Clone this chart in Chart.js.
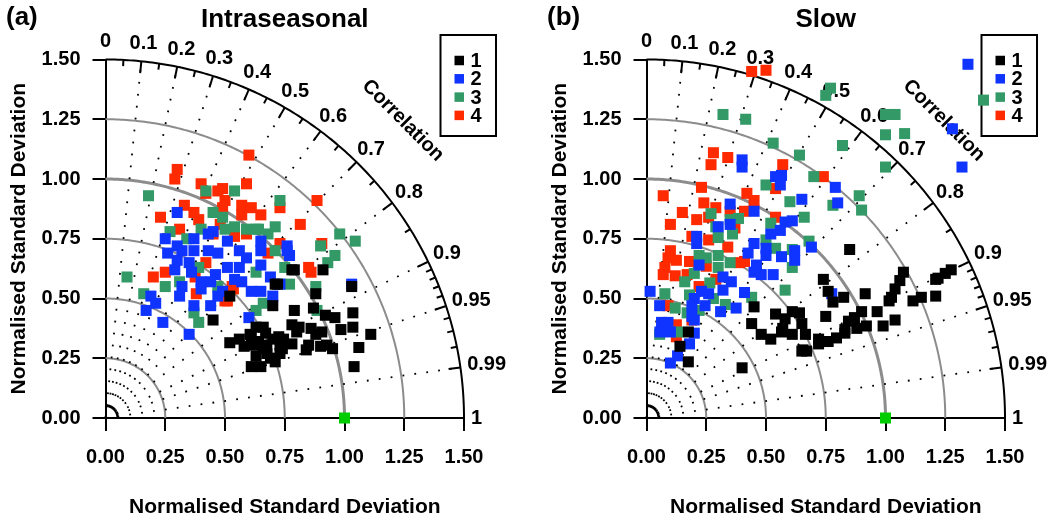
<!DOCTYPE html>
<html>
<head>
<meta charset="utf-8">
<script src="https://cdn.jsdelivr.net/npm/chart.js@4.4.1/dist/chart.umd.min.js"></script>
<style>
  html, body { margin: 0; padding: 0; background: #fff; }
  #wrap { position: relative; width: 1054px; height: 520px; }
  canvas { position: absolute; top: 0; }
  #chartA { left: 0; }
  #chartB { left: 541px; }
</style>
</head>
<body>
<div id="wrap">
  <canvas id="chartA" width="541" height="520"></canvas>
  <canvas id="chartB" width="513" height="520"></canvas>
</div>
<script>
// ---- data (normalised std dev, x = sd*corr, y = sd*sin) ----
const seriesNames = ['1', '2', '3', '4'];
const stdTicks = [0, 0.25, 0.5, 0.75, 1, 1.25, 1.5];
const stdArcs = [0.25, 0.5, 0.75, 1, 1.25];
const corrMajor = [0.1, 0.2, 0.3, 0.4, 0.5, 0.6, 0.7, 0.8, 0.9, 0.95, 0.99];
const corrMinor = [0.05, 0.15, 0.25, 0.35, 0.45, 0.55, 0.65, 0.75, 0.85, 0.91, 0.92, 0.93, 0.94, 0.96, 0.97, 0.98];
const corrLabels = [0, 0.1, 0.2, 0.3, 0.4, 0.5, 0.6, 0.7, 0.8, 0.9, 0.95, 0.99, 1];
const refPoint = [[1, 0]];

const intra1 = [[0.52,0.51],[0.70,0.47],[0.71,0.56],[0.45,0.41],[0.78,0.62],[0.91,0.62],[0.72,0.56],[0.88,0.52],
  [1.03,0.55],[0.87,0.46],[0.79,0.45],[0.92,0.43],[1.035,0.44],[0.96,0.42],[0.63,0.38],[0.78,0.39],[0.81,0.38],
  [0.86,0.375],[0.905,0.36],[0.985,0.37],[1.035,0.38],[1.11,0.35],[0.56,0.33],[0.52,0.315],[0.61,0.34],[0.67,0.355],
  [0.62,0.305],[0.675,0.305],[0.725,0.34],[0.73,0.305],[0.78,0.31],[0.85,0.305],[0.90,0.30],[0.95,0.29],[1.06,0.295],
  [0.63,0.26],[0.675,0.27],[0.73,0.27],[0.84,0.285],[0.71,0.235],[0.61,0.215],[0.65,0.215],[1.04,0.215],[0.66,0.38],
  [0.605,0.35],[0.745,0.33],[0.80,0.36],[0.88,0.35],[0.925,0.305],[0.79,0.62],[0.64,0.32],[0.70,0.33],[0.66,0.29],
  [0.69,0.25],[0.74,0.29],[0.58,0.30]];
const intra2 = [[0.30,0.86],[0.25,0.75],[0.37,0.75],[0.45,0.78],[0.43,0.77],[0.51,0.74],[0.65,0.74],[0.30,0.72],
  [0.32,0.70],[0.26,0.69],[0.37,0.70],[0.43,0.70],[0.47,0.69],[0.56,0.70],[0.65,0.70],[0.59,0.67],[0.30,0.66],
  [0.35,0.65],[0.29,0.62],[0.36,0.61],[0.51,0.63],[0.56,0.63],[0.65,0.64],[0.46,0.60],[0.40,0.57],[0.54,0.58],
  [0.57,0.57],[0.69,0.59],[0.32,0.55],[0.44,0.57],[0.40,0.54],[0.19,0.51],[0.31,0.51],[0.49,0.53],[0.47,0.51],
  [0.61,0.53],[0.65,0.53],[0.70,0.51],[0.21,0.48],[0.37,0.47],[0.17,0.45],[0.44,0.47],[0.60,0.42],[0.24,0.40],
  [0.35,0.35],[1.03,0.56],[0.76,0.70],[0.76,0.72],[0.73,0.56],[0.77,0.68]];
const intra3 = [[0.18,0.93],[0.42,0.95],[0.54,0.95],[0.73,0.91],[0.45,0.86],[0.49,0.84],[0.54,0.80],[0.50,0.79],
  [0.59,0.79],[0.27,0.78],[0.40,0.79],[0.68,0.77],[0.71,0.80],[0.71,0.70],[0.34,0.75],[0.09,0.59],[0.63,0.61],
  [0.25,0.55],[0.16,0.52],[0.31,0.57],[0.39,0.40],[0.63,0.45],[0.66,0.48],[0.37,0.44],[0.47,0.55],[0.39,0.63],
  [0.98,0.77],[1.045,0.74],[0.90,0.72],[0.96,0.68],[0.93,0.65],[0.63,0.79],[0.88,0.55],[0.77,0.56],[0.75,0.63],
  [0.885,0.45],[0.64,0.79]];
const intra4 = [[0.60,1.10],[0.30,1.04],[0.29,1.00],[0.40,0.98],[0.49,0.96],[0.59,0.98],[0.47,0.95],[0.42,0.94],
  [0.50,0.91],[0.33,0.89],[0.57,0.89],[0.61,0.88],[0.37,0.86],[0.23,0.84],[0.39,0.83],[0.49,0.88],[0.57,0.85],
  [0.65,0.85],[0.31,0.79],[0.54,0.76],[0.59,0.77],[0.68,0.69],[0.42,0.65],[0.20,0.59],[0.25,0.61],[0.53,0.55],
  [0.50,0.49],[0.38,0.52],[0.45,0.77],[0.48,0.81],[0.885,0.91],[0.73,0.88],[0.815,0.81],[0.73,0.73],[0.905,0.73],
  [0.85,0.63],[0.86,0.61],[0.51,0.49],[0.375,0.59],[0.535,0.54]];

const slow1 = [[0.85,0.705],[0.74,0.58],[0.76,0.53],[0.825,0.505],[0.915,0.52],[0.78,0.485],[1.075,0.61],[1.06,0.575],
  [1.04,0.54],[1.025,0.505],[1.015,0.49],[1.21,0.58],[1.21,0.51],[1.15,0.505],[1.115,0.49],[0.965,0.445],[1.04,0.41],
  [0.99,0.385],[0.90,0.445],[0.87,0.42],[0.845,0.405],[0.92,0.385],[0.88,0.375],[0.83,0.37],[0.75,0.425],[0.65,0.395],
  [0.54,0.435],[0.61,0.445],[0.64,0.44],[0.58,0.415],[0.57,0.375],[0.44,0.395],[0.45,0.465],[0.48,0.35],[0.52,0.33],
  [0.61,0.35],[0.665,0.35],[0.72,0.33],[0.72,0.31],[0.76,0.32],[0.795,0.335],[0.83,0.355],[0.65,0.28],[0.67,0.28],
  [0.40,0.21],[0.565,0.36],[0.655,0.285],[0.175,0.36],[0.14,0.30],[0.175,0.235],[1.275,0.62],[1.25,0.605],[1.22,0.585]];
const slow2 = [[0.40,1.08],[0.40,1.05],[0.54,1.01],[0.565,1.015],[0.56,0.975],[0.65,0.915],[0.35,0.895],[0.45,0.865],
  [0.58,0.82],[0.61,0.825],[0.35,0.81],[0.30,0.80],[0.52,0.77],[0.56,0.785],[0.21,0.76],[0.21,0.73],[0.45,0.73],
  [0.425,0.69],[0.50,0.71],[0.50,0.68],[0.565,0.675],[0.62,0.70],[0.62,0.66],[0.69,0.715],[0.22,0.64],[0.46,0.64],
  [0.45,0.61],[0.48,0.60],[0.53,0.60],[0.32,0.59],[0.355,0.57],[0.32,0.535],[0.41,0.525],[0.23,0.53],[0.26,0.52],
  [0.015,0.53],[0.20,0.50],[0.055,0.47],[0.19,0.47],[0.245,0.47],[0.31,0.445],[0.375,0.46],[0.19,0.425],[0.20,0.41],
  [0.063,0.40],[0.09,0.40],[0.056,0.36],[0.10,0.36],[0.20,0.355],[0.18,0.31],[0.13,0.26],[0.10,0.23],[1.345,1.48],
  [1.28,1.21],[1.32,1.05],[0.79,0.965],[0.80,0.90],[0.775,0.52]];
const slow3 = [[0.53,1.15],[0.64,1.10],[0.70,1.01],[0.50,0.975],[0.60,0.905],[0.27,0.855],[0.385,0.835],[0.52,0.815],
  [0.66,0.84],[0.35,0.83],[0.29,0.80],[0.36,0.77],[0.30,0.755],[0.54,0.71],[0.50,0.745],[0.61,0.705],[0.68,0.74],
  [0.22,0.68],[0.30,0.68],[0.25,0.67],[0.35,0.65],[0.30,0.63],[0.20,0.605],[0.16,0.57],[0.265,0.565],[0.61,0.63],
  [0.58,0.535],[0.077,0.52],[0.18,0.515],[0.28,0.50],[0.33,0.475],[0.44,0.505],[0.12,0.46],[0.22,0.45],[0.17,0.44],
  [0.13,0.36],[0.055,0.35],[0.77,1.38],[0.75,1.35],[0.32,1.27],[0.415,1.25],[1.00,1.27],[1.04,1.27],[1.00,1.185],
  [1.08,1.19],[0.82,1.14],[1.00,1.05],[1.41,1.33],[0.89,0.93],[0.78,0.89],[0.90,0.87]];
const slow4 = [[0.28,1.11],[0.34,1.09],[0.27,1.06],[0.57,1.06],[0.23,0.965],[0.07,0.93],[0.54,0.96],[0.42,0.94],
  [0.45,0.91],[0.24,0.90],[0.29,0.88],[0.15,0.86],[0.35,0.865],[0.41,0.865],[0.21,0.83],[0.10,0.81],[0.26,0.84],
  [0.54,0.84],[0.37,0.795],[0.19,0.76],[0.26,0.745],[0.34,0.715],[0.10,0.70],[0.09,0.67],[0.125,0.66],[0.077,0.63],
  [0.07,0.60],[0.12,0.595],[0.18,0.655],[0.25,0.635],[0.39,0.65],[0.41,0.655],[0.29,0.58],[0.22,0.55],[0.17,0.60],
  [0.09,0.47],[0.125,0.39],[0.125,0.34],[0.19,0.41],[0.44,1.45],[0.50,1.455],[0.74,1.01]];

const seriesColors = ['#000000', '#1034ff', '#339966', '#ff2a00'];
const refColor = '#00cc00';
const FONT = '"Liberation Sans", Arial, Helvetica, sans-serif';

// point at radius r along correlation c, in pixels via the chart scales
function polar(chart, r, c) {
  const s = Math.sqrt(Math.max(0, 1 - c * c));
  return [chart.scales.x.getPixelForValue(r * c), chart.scales.y.getPixelForValue(r * s)];
}

function arc(chart, r) {
  const ctx = chart.ctx;
  ctx.beginPath();
  for (let i = 0; i <= 180; i++) {
    const a = i * Math.PI / 360;
    const px = chart.scales.x.getPixelForValue(r * Math.cos(a));
    const py = chart.scales.y.getPixelForValue(r * Math.sin(a));
    if (i === 0) ctx.moveTo(px, py); else ctx.lineTo(px, py);
  }
  ctx.stroke();
}

const taylorPlugin = {
  id: 'taylor',
  beforeDatasetsDraw(chart, args, opts) {
    const ctx = chart.ctx;
    const area = chart.chartArea;
    ctx.save();

    // std dev arcs
    ctx.strokeStyle = '#8c8c8c';
    stdArcs.forEach(r => {
      ctx.lineWidth = r === 1 ? 3 : 2;
      arc(chart, r);
    });

    // dotted correlation rays
    ctx.strokeStyle = '#000';
    ctx.lineWidth = 1.8;
    ctx.setLineDash([1.8, 10.2]);
    corrMajor.forEach(c => {
      const o = polar(chart, 0, c);
      const e = polar(chart, 1.5, c);
      ctx.beginPath();
      ctx.moveTo(o[0], o[1]);
      ctx.lineTo(e[0], e[1]);
      ctx.stroke();
    });
    ctx.setLineDash([]);

    // outer arc + small arc at origin
    ctx.lineWidth = 2;
    arc(chart, 1.5);
    arc(chart, 0.05);

    // ticks on outer arc
    corrMajor.forEach(c => {
      const a = polar(chart, 1.5, c), b = polar(chart, 1.45, c);
      ctx.beginPath(); ctx.moveTo(a[0], a[1]); ctx.lineTo(b[0], b[1]); ctx.stroke();
    });
    corrMinor.forEach(c => {
      const a = polar(chart, 1.5, c), b = polar(chart, 1.474, c);
      ctx.beginPath(); ctx.moveTo(a[0], a[1]); ctx.lineTo(b[0], b[1]); ctx.stroke();
    });

    // correlation labels
    ctx.fillStyle = '#000';
    ctx.font = 'bold 20px ' + FONT;
    ctx.textAlign = 'center';
    ctx.textBaseline = 'middle';
    corrLabels.forEach(c => {
      const s = Math.sqrt(1 - c * c);
      const p = polar(chart, 1.5, c);
      const txt = String(c);
      const w = ctx.measureText(txt).width;
      ctx.fillText(txt, p[0] + c * 7 + c * w / 2, p[1] - s * 12 - s * 6);
    });

    // "Correlation"
    const cp = polar(chart, 1.76, Math.SQRT1_2);
    ctx.save();
    ctx.translate(cp[0], cp[1]);
    ctx.rotate(Math.PI / 4);
    ctx.fillText('Correlation', 0, 0);
    ctx.restore();

    // panel tag + title
    ctx.font = 'bold 26px ' + FONT;
    ctx.textAlign = 'left';
    ctx.fillText(opts.tag, 6, 18);
    ctx.textAlign = 'center';
    ctx.fillText(opts.title, (area.left + area.right) / 2, 20);

    // legend
    const lx = area.right - 23.5, ly = area.top - 24.5;
    ctx.lineWidth = 2;
    ctx.strokeRect(lx, ly, 55.5, 101);
    ctx.font = 'bold 20px ' + FONT;
    ctx.textAlign = 'left';
    seriesNames.forEach((n, i) => {
      const cy = ly + 25.5 + i * 18.3;
      ctx.fillStyle = seriesColors[i];
      ctx.fillRect(lx + 14, cy - 4.75, 9.5, 9.5);
      ctx.fillStyle = '#000';
      ctx.fillText(n, lx + 30, cy + 1);
    });
    ctx.restore();
  }
};

function makeDatasets(series) {
  const ds = [{
    label: 'ref',
    data: refPoint.map(p => ({ x: p[0], y: p[1] })),
    backgroundColor: refColor,
    borderWidth: 0,
    pointStyle: 'rect',
    pointRadius: 7.8,
    clip: false
  }];
  series.forEach((pts, i) => {
    ds.push({
      label: seriesNames[i],
      data: pts.map(p => ({ x: p[0], y: p[1] })),
      backgroundColor: seriesColors[i],
      borderWidth: 0,
      pointStyle: 'rect',
      pointRadius: 7.8,
      clip: false
    });
  });
  return ds;
}

function axis(isX) {
  const bold20 = { family: FONT, size: 20, weight: 'bold' };
  const bold21 = { family: FONT, size: 21, weight: 'bold' };
  return {
    type: 'linear',
    min: 0,
    max: 1.5,
    afterBuildTicks: s => { s.ticks = stdTicks.map(v => ({ value: v })); },
    afterFit: s => { if (isX) s.height = 102; else s.width = 98.5; },
    grid: { drawOnChartArea: false, drawTicks: true, tickLength: 13, color: '#000', lineWidth: 2 },
    border: { display: true, color: '#000', width: 2 },
    ticks: {
      color: '#000', font: bold20, padding: isX ? 14 : 12,
      autoSkip: false, maxRotation: 0,
      callback: v => Number(v).toFixed(2)
    },
    title: { display: true, text: 'Normalised Standard Deviation', color: '#000', font: bold21, padding: 0 }
  };
}

function makeChart(id, series, title, tag, padRight) {
  return new Chart(document.getElementById(id), {
    type: 'scatter',
    data: { datasets: makeDatasets(series) },
    options: {
      responsive: false,
      animation: false,
      events: [],
      devicePixelRatio: 1,
      layout: { padding: { left: 7, right: padRight, top: 59.5, bottom: 0 } },
      scales: { x: axis(true), y: axis(false) },
      plugins: {
        legend: { display: false },
        tooltip: { enabled: false },
        taylor: { title: title, tag: tag }
      }
    },
    plugins: [taylorPlugin]
  });
}

makeChart('chartA', [intra1, intra2, intra3, intra4], 'Intraseasonal', '(a)', 77);
makeChart('chartB', [slow1, slow2, slow3, slow4], 'Slow', '(b)', 49);
</script>
</body>
</html>
